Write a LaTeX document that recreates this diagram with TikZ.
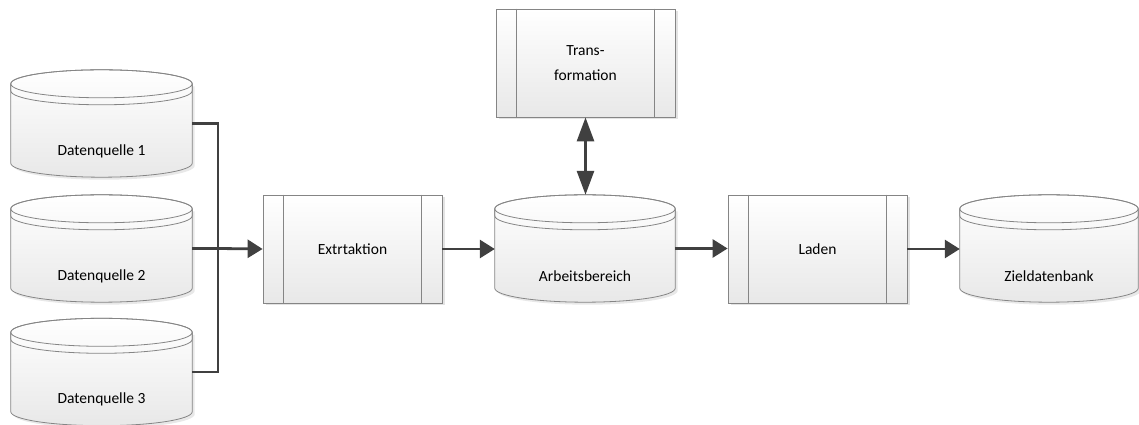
\documentclass[tikz,border=0pt]{standalone}
\usepackage{fontspec}
\setmainfont{Carlito}
\usetikzlibrary{arrows.meta,calc,shadows}
\definecolor{outl}{HTML}{858585}
\definecolor{conn}{HTML}{404040}
\tikzset{
  procbox/.style={draw=outl, line width=0.8pt, top color=white, bottom color=black!9,
    minimum width=179pt, minimum height=108pt, inner sep=0pt,
    drop shadow={shadow xshift=2.5pt, shadow yshift=-2.5pt, fill=black!18, opacity=0.6},
    font=\fontsize{15.5}{25}\selectfont, align=center},
  cylnode/.style={draw=none, minimum height=107pt, inner sep=0pt},
  cylbody/.style={draw=outl, line width=0.8pt, top color=white, bottom color=black!9},
  cylline/.style={draw=outl, line width=0.8pt},
  lbl/.style={font=\fontsize{15.5}{18}\selectfont, inner sep=0pt},
  flow/.style={draw=conn, line width=2.8pt, -{Triangle[length=15pt,width=18pt]}},
  flowplain/.style={draw=conn, line width=2.8pt},
  flowboth/.style={draw=conn, line width=2.8pt, {Triangle[length=24pt,width=17pt]}-{Triangle[length=24pt,width=17pt]}}
}
\begin{document}
\begin{tikzpicture}[x=1pt,y=1pt]
\useasboundingbox (0,0) rectangle (1139,425);
% invisible cylinder frames
\node[cylnode, minimum width=181pt] (d1) at (101.5,301.5) {};
\node[cylnode, minimum width=181pt] (d2) at (101.5,176.5) {};
\node[cylnode, minimum width=181pt] (d3) at (101.5,53) {};
\node[cylnode, minimum width=180pt] (ab) at (585,176.5) {};
\node[cylnode, minimum width=178pt] (zd) at (1049,176.5) {};
% cylinder drawings
\foreach \c in {d1,d2,d3,ab,zd}{
  \path let \p1=(\c.north west), \p2=(\c.south east), \n1={(\x2-\x1)/2} in
    [fill=black!15, opacity=0.6]
    (\x1+2.5pt,\y1-14pt-2.5pt) -- (\x1+2.5pt,\y2+14pt-2.5pt)
    arc[start angle=180,end angle=360,x radius=\n1,y radius=14pt]
    -- (\x2+2.5pt,\y1-14pt-2.5pt) -- cycle;
  \path[cylbody] let \p1=(\c.north west), \p2=(\c.south east), \n1={(\x2-\x1)/2} in
    (\x1,\y1-14pt) -- (\x1,\y2+14pt)
    arc[start angle=180,end angle=360,x radius=\n1,y radius=14pt]
    -- (\x2,\y1-14pt)
    arc[start angle=0,end angle=180,x radius=\n1,y radius=14pt] -- cycle;
  \path[cylline] let \p1=(\c.north west), \p2=(\c.south east), \n1={(\x2-\x1)/2} in
    (\x1,\y1-14pt) -- (\x1,\y1-21pt)
    arc[start angle=180,end angle=360,x radius=\n1,y radius=14pt]
    -- (\x2,\y1-14pt);
  \path[cylline] let \p1=(\c.north west), \p2=(\c.south east), \n1={(\x2-\x1)/2} in
    (\x1,\y1-14pt) arc[start angle=180,end angle=540,x radius=\n1,y radius=14pt];
}
% cylinder labels
\node[lbl] (d1t) at ([yshift=26pt]d1.south) {Datenquelle 1};
\node[lbl] (d2t) at ([yshift=26pt]d2.south) {Datenquelle 2};
\node[lbl] (d3t) at ([yshift=26pt]d3.south) {Datenquelle 3};
\node[lbl] (abt) at ([yshift=26pt]ab.south) {Arbeitsbereich};
\node[lbl] (zdt) at ([yshift=26pt]zd.south) {Zieldatenbank};
% process boxes
\node[procbox] (ex) at (352.5,176) {Extrtaktion};
\node[procbox] (tr) at (585.5,362) {Trans-\\formation};
\node[procbox] (ld) at (817.5,176) {Laden};
\foreach \b in {ex,tr,ld}{
  \draw[cylline] ([xshift=21pt]\b.north west) -- ([xshift=21pt]\b.south west);
  \draw[cylline] ([xshift=-21pt]\b.north east) -- ([xshift=-21pt]\b.south east);
}
% connectors
\coordinate (j) at (218,176);
\draw[flowplain] (d1.east) -| (j |- d3.east) -- (d3.east);
\draw[flow] (d2.east -| j) -- (ex.west);
\draw[flowplain] (d2.east) -- (d2.east -| j);
\draw[flow] (ex.east) -- (ex.east -| ab.west);
\draw[flowboth] (tr.south) -- (tr.south |- ab.north);
\draw[flow] (ab.east) -- (ab.east -| ld.west);
\draw[flow] (ld.east) -- (ld.east -| zd.west);
\end{tikzpicture}
\end{document}
